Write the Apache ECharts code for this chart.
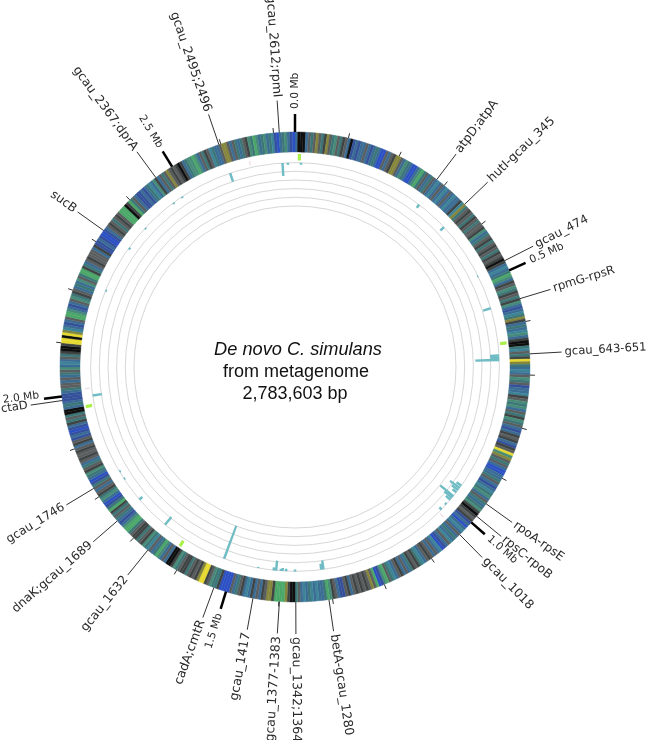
<!DOCTYPE html>
<html>
<head>
<meta charset="utf-8">
<style>html,body{margin:0;padding:0;background:#fff}#c{width:650px;height:740px}</style>
<script src="https://cdn.jsdelivr.net/npm/echarts@6/dist/echarts.min.js"></script>
</head>
<body>
<div id="c"></div>
<script>
// Genome axis (bp) as drawn
const axisLength = 2740000;
const tickStep = 100000;
const binSize = 5000;

// Major ticks
const majorPositions = [0, 500000, 1000000, 1500000, 2000000, 2500000];
const majorLabels = ['0.0 Mb', '0.5 Mb', '1.0 Mb', '1.5 Mb', '2.0 Mb', '2.5 Mb'];

// Gene labels
const geneNames = ['gcau_2612;rpmI','gcau_2495;2496','gcau_2367;dprA','sucB','ctaD','gcau_1746','dnaK;gcau_1689','gcau_1632','cadA;cmtR','gcau_1417','gcau_1377-1383','gcau_1342;1364','betA-gcau_1280','gcau_1018','rpsC-rpoB','rpoA-rpsE','gcau_643-651','rpmG-rpsR','gcau_474','hutI-gcau_345','atpD;atpA'];
const genePositions = [2710800,2596200,2463700,2325200,1992600,1818300,1743700,1665300,1523700,1448400,1398900,1368500,1306800,1031300,984900,955900,660600,556400,480300,351600,282400];

// Track circles
const ringRadii = [161, 169.7, 178.4, 187, 195.7, 204.4];

// Inner histogram: position (bp) and height
const peakPositions = [2713300,2724800,12900,2599200,2462200,2484300,2380700,2325900,2222400,284700,356200,484100,557900,660600,665200,669800,955200,961300,966600,972700,983300,987900,993200,1006200,1021400,1309100,1313700,1370000,1389000,1396600,1400400,1410300,1415600,1449100,1524500,1670600,1747500,1802300,1820500,1994100];
const peakHeights = [13,2,2,9,1.5,1.5,1.5,2,1.5,4,5,1,8,9,9,24,6,12,8,5,17,10,6,2,3,9,6,2,2.5,3,2,10,3,1,35,10,4,1.5,1.5,9.5];

// Lime and pale marks just inside the heat ring
const limePositions = [9100, 635500, 1973500, 1618900];
const palePositions = [2645000, 1030000, 2010000];

// Heat ring: one letter per bin, 20 bins per 100 kb
const ringBlocks = [
'skkksgtgogtdogtngtdg','skbsbssgsbstsBBgsgdo','ogsntsBBsnGtgstgscsg','scsgscssdcotgdgtdgtg',
'gdnstgdtgdgtdgdkdscs','tGnsdgntdgtdnsbsctod','stscnsdkktcgtdyotscs','gntgbsscdgntnsgtdntg',
'sbsdgdsbdgynogtgsBBs','stgsbsctnsgtstndkdgd','bsBscsgstscgsbBcsgsg','dgsctdgdtsgsdgsctgGn',
'bBGgogdgdgdgsdgbbsgd','nGtsscsctscsgtkkdoGG','GGdoogdsgsdscsdgtsgB','BBBdttngdyyodgdgtddg',
'tndkksgsnGtsgctndgtd','dgtGGnsbstgtdGtbBsnt','dgsgtbBstndgtsgdggdg','sdgbsbBbsdtgtkkstsbb',
'bstggsgstgnscsgtdkkd','yykyocsbsgGGnsbsgntd','gstsngtGGdtsgdgggsdb','bsbBBbsgdgtgdgGGGkdG',
'tgsbbsbstcsndsgtgogd','gdkdstnnGnsgtdgctssg','oogsgtstgdntGnstnstc','bBstnsbB'
];
const ringPalette = {k:'#0e0e0e',d:'#3e4343',g:'#5a5e5f',b:'#34509a',B:'#2c50c4',s:'#3a6c94',c:'#3c8498',t:'#3c7677',n:'#478c78',G:'#4aa768',y:'#e6da30',o:'#85863c'};

const ringCells = ringBlocks.join('').split('').map((ch, i) => [i * binSize, ch]);

const CX = 295, CY = 367, R = 235, R_IN = 215, R_GENE = 267, R_MAJOR = 253, BASE = 204.4;
const dark = '#333';

function wedge(api, pos, half, r0, r1, style) {
  const a = pos - half, b = pos + half;
  return {type:'polygon', shape:{points:[api.coord([r0,a]),api.coord([r1,a]),api.coord([r1,b]),api.coord([r0,b])]}, style};
}
function radialLabel(api, text, pos, rText, size, tall, lift) {
  const c = api.coord([0, pos]), p = api.coord([rText, pos]);
  const rad = Math.atan2(p[1]-c[1], p[0]-c[0]);
  const deg = rad * 180 / Math.PI;
  const right = pos <= axisLength / 2;
  const rot = right ? deg : deg + 180;
  const fs = size + tall * Math.abs(Math.sin(rad));   // upright labels run longer in the reference
  return {type:'text', x:p[0], y:p[1] - (lift || 0), rotation:-rot*Math.PI/180,
    style:{text, fill:'#2a2a2a', fontFamily:'DejaVu Sans', fontSize:fs, textAlign:right?'left':'right', textVerticalAlign:'middle'}};
}

const polarRef = {coordinateSystem:'polar', silent:true, animation:false};

const option = {
  animation:false,
  backgroundColor:'#fff',
  polar:{center:[CX,CY], radius:R},
  radiusAxis:{type:'value', min:0, max:R, show:false},
  angleAxis:{type:'value', min:0, max:axisLength, interval:tickStep, startAngle:90, clockwise:true,
    axisLine:{show:false}, axisLabel:{show:false}, splitLine:{show:false},
    axisTick:{show:true, length:5, lineStyle:{color:dark, width:1}}},
  graphic:[
    {type:'text', x:298, y:350, style:{text:'De novo C. simulans', fontFamily:'Liberation Sans', fontStyle:'italic', fontSize:18.2, fill:'#111', textAlign:'center', textVerticalAlign:'middle'}},
    {type:'text', x:296, y:372, style:{text:'from metagenome', fontFamily:'Liberation Sans', fontSize:18, fill:'#111', textAlign:'center', textVerticalAlign:'middle'}},
    {type:'text', x:295, y:394, style:{text:'2,783,603 bp', fontFamily:'Liberation Sans', fontSize:18, fill:'#111', textAlign:'center', textVerticalAlign:'middle'}}
  ],
  series:[
    {...polarRef, type:'custom', data:ringRadii.map(r=>[r,0]), z:1,
      renderItem:(p,api)=>{const c=api.coord([0,0]),e=api.coord([api.value(0),0]);
        return {type:'circle',shape:{cx:c[0],cy:c[1],r:Math.hypot(e[0]-c[0],e[1]-c[1])},style:{fill:'none',stroke:'#d6d7d7',lineWidth:1}};}},
    {...polarRef, type:'custom', data:palePositions.map(v=>[v]), z:2,
      renderItem:(p,api)=>wedge(api,api.value(0),1500,206.5,211,{fill:'#f1dfe9'})},
    {...polarRef, type:'custom', data:limePositions.map(v=>[v]), z:2,
      renderItem:(p,api)=>wedge(api,api.value(0),3300,206.5,213,{fill:'#aaf04c'})},
    {...polarRef, type:'custom', data:peakPositions.map((v,i)=>[v,peakHeights[i]]), z:3,
      renderItem:(p,api)=>wedge(api,api.value(0),2700,BASE,BASE-api.value(1),{fill:'#6fbcc5'})},
    {...polarRef, type:'custom', data:ringCells.map(c=>[c[0]]), z:4,
      renderItem:(p,api)=>{const col=ringPalette[ringCells[p.dataIndex][1]];
        const v=api.value(0);
        return {type:'polygon',shape:{points:[api.coord([R_IN,v]),api.coord([R,v]),api.coord([R,v+binSize]),api.coord([R_IN,v+binSize])]},style:{fill:col,stroke:col,lineWidth:0.4}};}},
    {...polarRef, type:'custom', data:genePositions.map(v=>[v]), z:5,
      renderItem:(p,api)=>{const v=api.value(0),a=api.coord([R,v]),b=api.coord([R_GENE,v]);
        return {type:'group',children:[
          {type:'line',shape:{x1:a[0],y1:a[1],x2:b[0],y2:b[1]},style:{stroke:'#333',lineWidth:1}},
          radialLabel(api,geneNames[p.dataIndex],v,R_GENE+3,11.5,1.1)]};}},
    {...polarRef, type:'custom', data:majorPositions.map(v=>[v]), z:6,
      renderItem:(p,api)=>{const v=api.value(0),a=api.coord([R,v]),b=api.coord([R_MAJOR,v]);
        return {type:'group',children:[
          {type:'line',shape:{x1:a[0],y1:a[1],x2:b[0],y2:b[1]},style:{stroke:'#000',lineWidth:2.5}},
          radialLabel(api,majorLabels[p.dataIndex],v,R_MAJOR+5,10.7,0,p.dataIndex===4?4:0)]};}}
  ]
};
const chart = echarts.init(document.getElementById('c'),null,{renderer:'canvas'});
chart.setOption(option);
</script>
</body>
</html>
